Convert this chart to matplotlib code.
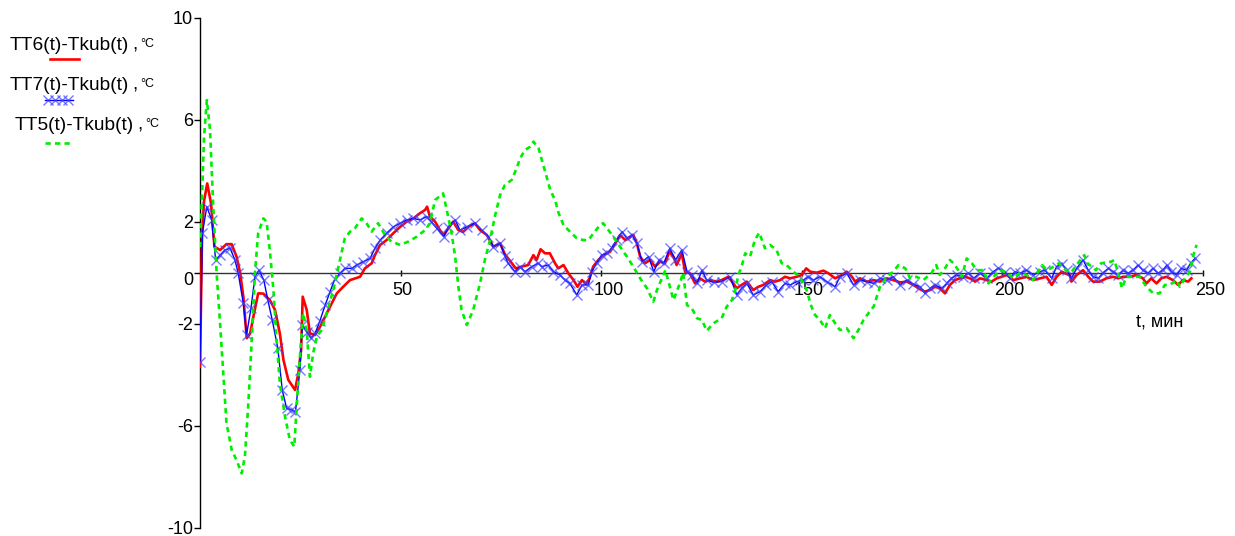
import numpy as np
import matplotlib
matplotlib.use("Agg")
import matplotlib.pyplot as plt
from matplotlib.transforms import ScaledTranslation

plt.rcParams['font.family'] = ['Liberation Sans', 'DejaVu Sans']

# TT6(t)-Tkub(t), red
t_red = [0, 0.5, 1.0, 1.8, 2.75, 3.6, 5.0, 6.6, 7.9, 9.1, 10.0, 10.8, 11.65, 12.5, 13.3,
         14.5, 15.8, 17.4, 18.7, 19.9, 20.8, 22.0, 23.7, 24.5, 25.2, 25.6, 26.6, 27.4,
         28.7, 30.1, 32.2, 34.1, 35.7, 37.4, 39.9, 41.1, 42.8, 43.6, 44.9, 46.5, 48.2,
         49.9, 51.5, 53.2, 54.8, 56.1, 56.6, 57.3, 58.6, 59.8, 60.8, 61.9, 63.1, 64.4,
         65.6, 66.9, 68.5, 69.8, 71.5, 73.1, 74.8, 76.0, 77.3, 78.7, 80.2, 81.8, 83.1,
         83.9, 84.9, 86.0, 87.2, 88.5, 89.3, 90.6, 91.8, 93.1, 94.1, 95.2, 96.2, 97.1,
         98.0, 99.3, 100.5, 102.2, 103.5, 104.7, 106.0, 106.8, 108.0, 108.9, 109.7,
         110.9, 112.2, 113.4, 114.7, 115.9, 117.0, 118.0, 118.8, 120.1, 120.9, 122.1,
         123.4, 124.6, 125.9, 127.1, 128.8, 130.0, 131.7, 132.9, 133.8, 135.0, 136.3,
         137.9, 139.2, 140.4, 142.1, 143.3, 144.6, 145.8, 147.1, 148.7, 150.0, 151.1,
         152.1, 153.7, 155.4, 156.6, 158.3, 160.0, 161.2, 162.5, 163.3, 164.5, 166.2,
         167.9, 169.5, 171.2, 172.8, 174.5, 176.2, 177.8, 179.5, 180.7, 182.0, 183.2,
         184.4, 185.7, 186.9, 188.2, 189.4, 190.7, 191.9, 193.2, 194.4, 196.1, 197.3,
         198.6, 199.8, 201.1, 202.7, 204.4, 206.0, 207.7, 209.4, 211.0, 212.3, 213.5,
         214.8, 216.0, 216.8, 217.2, 218.5, 220.1, 221.4, 222.6, 224.3, 225.9, 227.6,
         228.8, 230.1, 231.7, 233.4, 235.0, 235.9, 237.1, 238.4, 239.6, 240.9, 242.5,
         243.8, 245.0, 246.3, 247.1]
v_red = [-3.69, 1.4, 2.8, 3.5, 2.72, 1.02, 0.89, 1.12, 1.12, 0.63, 0.0, -0.94, -2.57, -2.38,
         -1.73, -0.81, -0.82, -1.07, -1.46, -2.38, -3.42, -4.2, -4.6, -3.95, -3.03, -0.94,
         -1.46, -2.38, -2.44, -2.07, -1.4, -0.81, -0.55, -0.29, -0.16, 0.17, 0.37, 0.69,
         1.09, 1.28, 1.55, 1.8, 2.0, 2.13, 2.33, 2.46, 2.59, 2.2, 2.0, 1.67, 1.48, 1.74,
         2.0, 1.67, 1.6, 1.8, 1.94, 1.67, 1.48, 1.02, 1.15, 0.72, 0.46, 0.17, 0.24, 0.30,
         0.69, 0.5, 0.92, 0.76, 0.76, 0.37, 0.17, 0.30, -0.02, -0.29, -0.55, -0.29, -0.44,
         -0.22, 0.24, 0.5, 0.69, 0.82, 1.15, 1.48, 1.28, 1.35, 1.48, 1.15, 0.63, 0.37, 0.5,
         0.24, 0.43, 0.37, 0.82, 0.63, 0.30, 0.76, 0.04, -0.02, -0.42, -0.22, -0.35, -0.29,
         -0.35, -0.29, -0.16, -0.42, -0.61, -0.48, -0.35, -0.68, -0.55, -0.48, -0.29,
         -0.35, -0.29, -0.16, -0.22, -0.16, -0.09, 0.17, 0.04, 0.0, 0.08, -0.02, -0.22,
         -0.09, 0.04, -0.16, -0.35, -0.22, -0.35, -0.29, -0.35, -0.22, -0.29, -0.38,
         -0.35, -0.48, -0.65, -0.74, -0.68, -0.55, -0.61, -0.81, -0.48, -0.29, -0.22,
         -0.16, -0.22, -0.35, -0.22, -0.29, -0.35, -0.22, -0.16, -0.09, -0.29, -0.22,
         -0.16, -0.29, -0.22, -0.16, -0.48, -0.16, 0.04, -0.05, -0.09, -0.35, -0.09, 0.1,
         -0.16, -0.35, -0.35, -0.22, -0.16, -0.22, -0.16, -0.16, -0.09, -0.22, -0.42,
         -0.22, -0.42, -0.22, -0.16, -0.29, -0.48, -0.29, -0.35, -0.22]

# TT7(t)-Tkub(t), blue with x markers
t_blue = [0, 0.6, 1.7, 2.9, 3.9, 5.0, 6.2, 7.5, 8.7, 9.5, 10.8, 11.6, 12.7, 13.7, 14.7,
          15.9, 16.9, 18.0, 19.4, 20.5, 21.6, 22.8, 23.8, 24.9, 25.5, 26.6, 27.7, 28.7,
          29.9, 31.2, 32.4, 33.6, 34.9, 36.1, 37.8, 39.1, 40.7, 42.4, 43.6, 44.9, 46.5,
          48.2, 49.9, 51.5, 53.2, 54.8, 56.5, 57.7, 59.0, 60.8, 61.9, 63.6, 64.8, 66.5,
          68.5, 70.2, 71.9, 73.1, 74.8, 76.0, 76.8, 78.5, 79.8, 81.0, 82.7, 84.3, 85.2,
          86.8, 88.1, 89.7, 91.0, 92.2, 93.9, 95.2, 96.8, 97.6, 98.9, 100.1, 101.4, 102.6,
          103.9, 105.2, 106.4, 107.7, 108.9, 110.2, 111.8, 113.1, 114.4, 115.6, 117.1,
          118.5, 120.1, 121.4, 122.6, 123.9, 125.1, 126.3, 128.0, 130.0, 132.1, 133.8,
          135.0, 136.3, 137.9, 139.6, 141.2, 142.5, 144.1, 145.8, 147.1, 148.7, 150.4,
          151.6, 152.9, 154.5, 156.2, 158.3, 159.5, 161.2, 162.9, 164.5, 166.2, 167.9,
          169.5, 171.2, 172.8, 174.5, 176.2, 177.8, 179.5, 180.7, 182.0, 183.2, 184.9,
          186.1, 187.3, 188.6, 190.3, 191.5, 192.8, 194.4, 196.1, 197.7, 199.0, 200.6,
          201.9, 203.1, 204.4, 206.0, 207.7, 209.4, 210.6, 212.3, 213.5, 214.8, 216.0,
          217.2, 218.5, 220.1, 221.4, 222.6, 223.9, 225.1, 226.4, 227.6, 228.8, 230.1,
          231.3, 232.6, 233.8, 235.0, 236.3, 237.5, 238.8, 240.0, 241.0, 242.1, 243.4,
          244.6, 245.9, 246.9, 248.0]
v_blue = [-3.49, 1.55, 2.59, 2.07, 0.5, 0.69, 0.89, 0.96, 0.5, 0.0, -1.2, -2.44, -1.4,
          -0.16, 0.1, -0.29, -1.07, -1.85, -2.97, -4.6, -5.32, -5.38, -5.45, -3.82, -2.05,
          -2.31, -2.57, -2.38, -1.88, -1.27, -0.75, -0.25, -0.02, 0.17, 0.17, 0.3, 0.43,
          0.56, 0.96, 1.28, 1.55, 1.8, 1.94, 2.07, 2.13, 2.07, 2.2, 2.0, 1.74, 1.41, 1.8,
          2.07, 1.67, 1.8, 1.94, 1.67, 1.41, 1.02, 1.15, 0.66, 0.37, 0.04, 0.24, 0.04,
          0.24, 0.37, 0.24, 0.3, 0.04, -0.09, -0.29, -0.42, -0.87, -0.48, -0.48, 0.04,
          0.37, 0.69, 0.76, 0.96, 1.28, 1.61, 1.35, 1.48, 1.15, 0.43, 0.63, 0.04, 0.5,
          0.37, 0.96, 0.5, 0.89, 0.04, -0.09, -0.42, 0.1, -0.29, -0.38, -0.35, -0.16,
          -0.87, -0.61, -0.42, -0.87, -0.74, -0.48, -0.35, -0.74, -0.42, -0.48, -0.35,
          -0.29, -0.16, -0.29, -0.16, -0.35, -0.55, -0.16, -0.02, -0.48, -0.29, -0.35,
          -0.42, -0.22, -0.29, -0.16, -0.48, -0.29, -0.45, -0.55, -0.81, -0.61, -0.48,
          -0.61, -0.42, -0.22, -0.09, -0.16, -0.02, -0.22, -0.02, -0.22, 0.04, 0.17, 0.04,
          -0.22, 0.04, -0.02, 0.1, -0.09, 0.04, 0.1, -0.22, 0.24, 0.35, 0.1, -0.22, 0.17,
          0.5, 0.1, -0.16, -0.22, 0.0, 0.17, 0.04, -0.09, 0.1, -0.02, 0.1, 0.3, 0.1, -0.02,
          0.17, -0.02, 0.1, 0.3, 0.04, -0.09, 0.17, 0.1, 0.37, 0.56]

# TT5(t)-Tkub(t), green dashed
t_green = [0, 0.5, 1.0, 1.7, 2.5, 3.3, 4.2, 5.0, 5.8, 6.6, 7.9, 9.1, 10.4, 11.2, 12.0,
           12.9, 13.7, 14.5, 15.8, 16.6, 17.4, 18.3, 19.1, 19.9, 21.2, 22.4, 23.5, 24.1,
           24.9, 25.7, 26.6, 27.4, 28.2, 29.1, 30.3, 31.6, 33.2, 34.9, 36.1, 37.4, 38.6,
           40.3, 41.5, 42.8, 44.4, 46.1, 47.7, 49.9, 51.9, 54.0, 56.1, 57.3, 58.6, 60.6,
           61.5, 62.7, 63.6, 64.4, 65.2, 66.5, 68.1, 69.8, 71.0, 72.3, 73.5, 74.8, 76.0,
           77.7, 78.9, 79.8, 81.0, 82.3, 83.1, 84.4, 85.2, 86.5, 87.3, 88.5, 89.4, 90.6,
           92.2, 93.9, 95.6, 96.8, 98.1, 99.7, 100.5, 101.8, 103.0, 104.7, 106.4, 108.0,
           109.7, 111.4, 113.0, 113.9, 116.0, 118.0, 119.6, 120.4, 121.4, 122.6, 123.9,
           125.1, 126.3, 128.0, 130.0, 131.3, 132.6, 133.4, 134.2, 135.1, 135.9, 137.1,
           138.3, 139.4, 140.8, 142.1, 143.7, 145.0, 146.2, 147.9, 149.5, 151.2, 152.4,
           153.3, 154.5, 155.8, 157.0, 158.3, 159.5, 161.2, 162.9, 164.1, 165.4, 166.6,
           167.9, 168.7, 169.5, 171.2, 172.8, 174.1, 175.8, 177.0, 178.6, 180.3, 182.4,
           183.5, 184.4, 185.7, 186.9, 187.8, 189.0, 189.9, 191.1, 192.4, 193.6, 195.3,
           196.5, 197.8, 199.4, 201.1, 202.7, 204.4, 206.0, 207.7, 209.9, 211.2, 212.8,
           214.1, 215.8, 217.1, 218.8, 220.4, 221.2, 223.3, 224.6, 227.1, 227.9, 229.2,
           229.8, 230.9, 232.6, 234.2, 235.9, 237.6, 239.2, 240.5, 241.7, 243.4, 244.2,
           245.5, 246.7, 247.6, 248.4]
v_green = [1.0, 3.0, 5.3, 6.77, 5.6, 2.59, -0.16, -1.98, -3.95, -5.9, -6.95, -7.35, -7.87,
           -7.2, -5.25, -2.64, 0.0, 1.55, 2.13, 2.0, 0.89, -0.68, -2.64, -4.34, -5.65,
           -6.56, -6.82, -5.25, -3.29, -1.59, -2.25, -4.08, -3.16, -2.51, -2.25, -1.59,
           -0.68, 0.5, 1.35, 1.61, 1.74, 2.13, 1.94, 1.61, 1.94, 1.48, 1.22, 1.09, 1.22,
           1.41, 1.67, 1.94, 2.85, 3.11, 2.46, 1.55, 0.63, -0.55, -1.46, -2.05, -1.46,
           -0.42, 0.5, 1.28, 2.2, 3.05, 3.44, 3.64, 4.09, 4.49, 4.81, 4.94, 5.14, 4.88,
           4.42, 3.7, 3.24, 2.85, 2.33, 1.87, 1.61, 1.35, 1.28, 1.28, 1.55, 1.87, 1.94,
           1.67, 1.41, 1.02, 0.63, 0.24, -0.22, -0.61, -1.14, -0.68, 0.1, -1.07, -0.42,
           0.0, -1.27, -1.4, -1.79, -1.85, -2.28, -1.98, -1.79, -1.33, -1.07, -0.68, -0.09,
           0.3, 0.76, 0.63, 1.28, 1.57, 0.96, 1.09, 0.89, 0.37, 0.3, 0.04, -0.16, -0.68,
           -1.33, -1.66, -1.85, -2.18, -1.66, -1.98, -2.25, -2.18, -2.57, -2.25, -1.85,
           -1.59, -1.33, -0.94, -0.55, -0.16, 0.04, 0.3, 0.17, -0.22, -0.16, -0.29, 0.0,
           0.3, -0.09, 0.17, 0.5, 0.37, 0.1, -0.16, 0.56, 0.37, 0.1, 0.1, -0.42, -0.16, 0.1,
           0.0, -0.22, 0.0, -0.09, -0.29, 0.3, 0.1, 0.24, 0.37, 0.1, 0.0, 0.37, 0.69, 0.37,
           0.1, 0.37, 0.43, 0.5, -0.22, -0.61, -0.16, -0.16, -0.16, -0.55, -0.81, -0.81,
           -0.48, -0.48, -0.29, -0.55, -0.22, 0.04, 0.69, 1.09]

y_ticks = [10, 6, 2, 0, -2, -6, -10]
x_ticks = [50, 100, 150, 200, 250]

W, H = 1235, 536
fig = plt.figure(figsize=(W / 100, H / 100), dpi=100)

# axes placed so that t=0..250 and -10..10 land where the original has them
ax = fig.add_axes([200 / W, 1 - 527.7 / H, 1003 / W, 510 / H])
ax.set_xlim(0, 250)
ax.set_ylim(-10, 10)
ax.patch.set_visible(False)

blue_mec = (0.25, 0.25, 1.0, 0.7)

ax.plot(t_red, v_red, color='#ff0000', lw=1.9, zorder=3)
ax.plot(t_blue, v_blue, color='#0000ff', lw=1.0, marker='x', ms=7, mew=1.0,
        mec=blue_mec, zorder=4)
ax.plot(t_green, v_green, color='#00ee00', lw=1.9, ls=(0, (2, 1.6)), zorder=5)

for s in ['top', 'right']:
    ax.spines[s].set_visible(False)
ax.spines['left'].set_position(('data', 0))
ax.spines['bottom'].set_position(('data', 0))
ax.spines['left'].set_linewidth(1.0)
ax.spines['bottom'].set_linewidth(1.0)
ax.spines['bottom'].set_color('#333333')

ax.set_yticks(y_ticks, [str(v) for v in y_ticks])
ax.set_xticks(x_ticks, [str(v) for v in x_ticks])
ax.tick_params(axis='y', direction='out', length=4, width=1, pad=1, labelsize=13)
ax.tick_params(axis='x', direction='inout', length=4, width=1, pad=5, labelsize=13)

for lab in ax.get_xticklabels():
    lab.set_horizontalalignment('left')
    lab.set_transform(lab.get_transform() + ScaledTranslation(-0.08, 0, fig.dpi_scale_trans))
for lab in ax.get_yticklabels():
    if lab.get_text() == '0':
        lab.set_transform(lab.get_transform() + ScaledTranslation(0, -0.06, fig.dpi_scale_trans))

ax.set_xlabel('t, мин', fontsize=13)
ax.xaxis.set_label_coords(0.957, 0.403)
ax.xaxis.label.set_verticalalignment('center')

# legend block in pixel coordinates
lax = fig.add_axes([0, 0, 1, 1], zorder=-1)
lax.set_xlim(0, W)
lax.set_ylim(H, 0)
lax.axis('off')

names = ['TT6(t)-Tkub(t)', 'TT7(t)-Tkub(t)', 'TT5(t)-Tkub(t)']
for name, x0, yb in zip(names, [10, 10, 15], [50, 90, 130]):
    lax.text(x0, yb, name, fontsize=13.8, va='baseline', ha='left')
    lax.text(x0 + 122, yb, ',', fontsize=13.8, va='baseline', ha='left')
    lax.text(x0 + 130, yb - 3, '°C', fontsize=9, va='baseline', ha='left')

lax.plot([50, 79], [58.5, 58.5], color='#ff0000', lw=1.9)
lax.plot([45, 73], [100, 100], color='#0000ff', lw=1.0)
lax.plot([48, 55, 62, 68], [100, 100, 100, 100], ls='none', marker='x', ms=7,
         mew=1.0, mec=blue_mec)
lax.plot([45, 72], [143, 143], color='#00ee00', lw=1.9, ls=(0, (2, 1.6)))

plt.savefig('out.png', dpi=100)
